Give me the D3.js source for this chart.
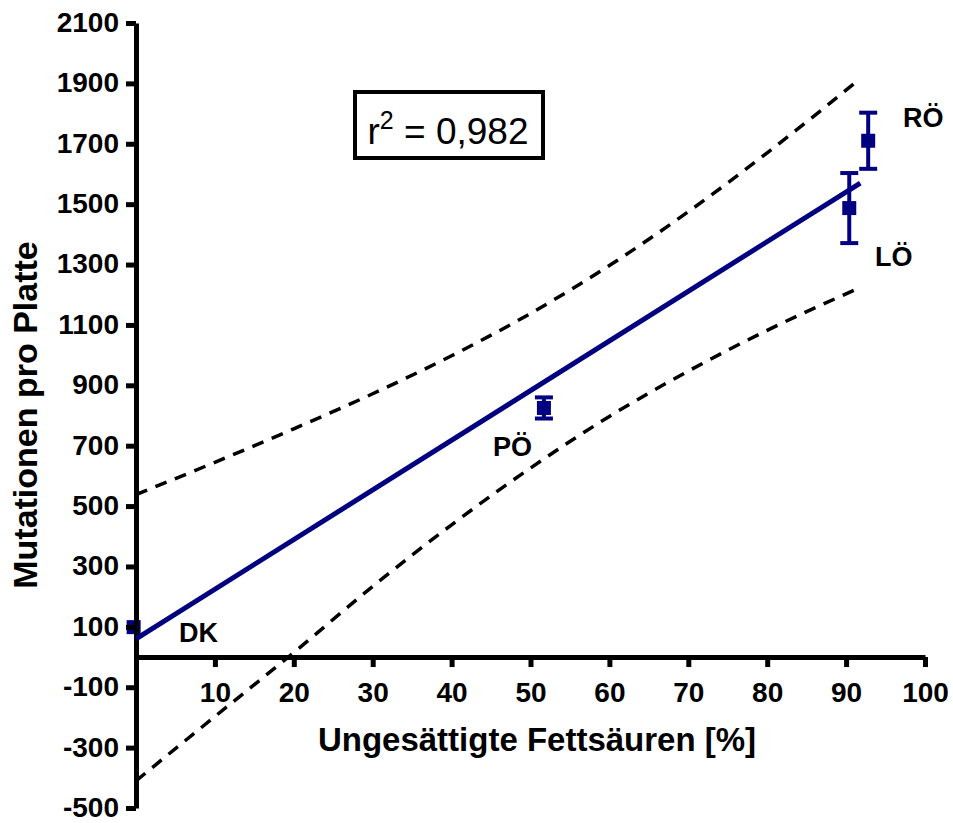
<!DOCTYPE html>
<html>
<head>
<meta charset="utf-8">
<script src="https://cdn.jsdelivr.net/npm/d3@7"></script>
<style>
  html, body { margin: 0; padding: 0; background: #fff; }
  svg { display: block; }
  text { font-family: "Liberation Sans", Arial, sans-serif; }
</style>
</head>
<body>
<svg id="chart" width="953" height="823"></svg>
<script>
// Mean values per fat type with error bars
const labels = ["DK", "PÖ", "LÖ", "RÖ"];
const fatPct = [-0.3, 51.7, 90.4, 92.8];
const mutations = [99, 825, 1487, 1710];
const errors = [12, 35, 116, 93];

// Linear fit line (endpoints)
const fitX = [0, 91.8];
const fitY = [60, 1570];

// 95% confidence band
const bandX = [0, 10, 20, 30, 40, 50, 60, 70, 80, 91.8];
const bandUpper = [538, 645, 756, 872, 998, 1138, 1297, 1475, 1670, 1916];
const bandLower = [-410, -197, 15, 234, 438, 626, 797, 947, 1082, 1224];

// Axis ticks
const xTicks = [10, 20, 30, 40, 50, 60, 70, 80, 90, 100];
const yTicks = [-500, -300, -100, 100, 300, 500, 700, 900, 1100, 1300, 1500, 1700, 1900, 2100];

const navy = "#000080";
const markerHalf = 7;
const svg = d3.select("#chart");

const x = d3.scaleLinear().domain([0, 100]).range([136, 925]);
const y = d3.scaleLinear().domain([-500, 2100]).range([808, 23]);

// Confidence band lines
const bandLine = d3.line().x(d => x(d[0])).y(d => y(d[1])).curve(d3.curveMonotoneX);
[bandUpper, bandLower].forEach(vals => {
  svg.append("path")
    .datum(bandX.map((bx, i) => [bx, vals[i]]))
    .attr("d", bandLine)
    .attr("fill", "none")
    .attr("stroke", "#000")
    .attr("stroke-width", 3.5)
    .attr("stroke-dasharray", "12,9");
});

// Error bars and markers
const pts = labels.map((l, i) => ({ l, x: fatPct[i], y: mutations[i], e: errors[i] }));
const g = svg.append("g");
pts.forEach(p => {
  const cx = x(p.x);
  const y0 = y(p.y - p.e), y1 = y(p.y + p.e);
  // bars hidden inside the marker are not drawn
  if (y0 - y(p.y) > markerHalf) {
    g.append("line")
      .attr("x1", cx).attr("x2", cx)
      .attr("y1", y0).attr("y2", y1)
      .attr("stroke", navy).attr("stroke-width", 4);
    [y0, y1].forEach(v => {
      g.append("line")
        .attr("x1", cx - 9).attr("x2", cx + 9)
        .attr("y1", v).attr("y2", v)
        .attr("stroke", navy).attr("stroke-width", 4);
    });
  }
  g.append("rect")
    .attr("x", cx - markerHalf).attr("y", y(p.y) - markerHalf)
    .attr("width", markerHalf * 2).attr("height", markerHalf * 2)
    .attr("fill", navy);
});

// Axes
const fmt = d => String(d);
const xAxis = svg.append("g")
  .attr("transform", `translate(0,${y(0)})`)
  .call(d3.axisBottom(x).tickValues(xTicks).tickFormat(fmt).tickSize(10).tickSizeOuter(0).tickPadding(15));
const yAxis = svg.append("g")
  .attr("transform", `translate(${x(0)},0)`)
  .call(d3.axisLeft(y).tickValues(yTicks).tickFormat(fmt).tickSize(10).tickSizeOuter(0).tickPadding(7));

[xAxis, yAxis].forEach(a => {
  a.select(".domain").attr("stroke", "#000").attr("stroke-width", 5);
  a.selectAll(".tick line").attr("stroke", "#000").attr("stroke-width", 5);
  a.selectAll(".tick text")
    .attr("fill", "#000")
    .style("font-size", "28px")
    .style("font-weight", "bold")
    .style("font-family", "'Liberation Sans', Arial, sans-serif");
});
yAxis.selectAll(".tick text").attr("dy", "0.3em");

// Regression line
svg.append("path")
  .datum(fitX.map((fx, i) => [fx, fitY[i]]))
  .attr("d", d3.line().x(d => x(d[0])).y(d => y(d[1])))
  .attr("fill", "none")
  .attr("stroke", navy)
  .attr("stroke-width", 5);

// Axis titles
svg.append("text")
  .attr("x", 537).attr("y", 751)
  .attr("text-anchor", "middle")
  .style("font-size", "33px").style("font-weight", "bold")
  .text("Ungesättigte Fettsäuren [%]");
svg.append("text")
  .attr("transform", "translate(37,415) rotate(-90)")
  .attr("text-anchor", "middle")
  .style("font-size", "34px").style("font-weight", "bold")
  .text("Mutationen pro Platte");

// Point labels
const labelPos = { "DK": [179, 642], "PÖ": [493, 456], "LÖ": [875, 266], "RÖ": [903, 127] };
labels.forEach(l => {
  svg.append("text")
    .attr("x", labelPos[l][0]).attr("y", labelPos[l][1])
    .style("font-size", "27px").style("font-weight", "bold")
    .text(l);
});

// r² annotation box
svg.append("rect")
  .attr("x", 355).attr("y", 92)
  .attr("width", 188).attr("height", 66)
  .attr("fill", "#fff").attr("stroke", "#000").attr("stroke-width", 4);
const rt = svg.append("text")
  .attr("x", 448).attr("y", 144)
  .attr("text-anchor", "middle")
  .style("font-size", "37px");
rt.append("tspan").text("r");
rt.append("tspan").attr("dy", -15).style("font-size", "25px").text("2");
rt.append("tspan").attr("dy", 15).text(" = 0,982");
</script>
</body>
</html>
